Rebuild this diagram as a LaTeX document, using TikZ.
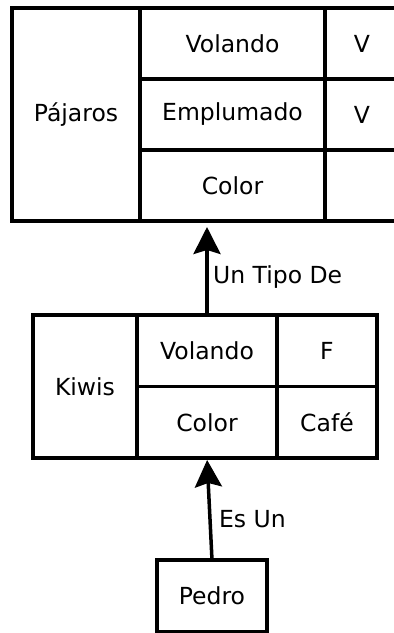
\documentclass[tikz,border=0pt]{standalone}
\usepackage{fontspec}
\setmainfont{DejaVu Sans}
\usetikzlibrary{arrows.meta, positioning}

\begin{document}
\begin{tikzpicture}[
        x=1pt, y=1pt,
        node distance=0pt,
        cell/.style={draw, line width=3.5pt, outer sep=0pt, inner sep=0pt,
                     minimum height=71pt, font=\fontsize{23.5}{28}\selectfont},
        arr/.style={-{Stealth[length=27pt, width=27pt, inset=4pt]}, line width=3.5pt},
        lbl/.style={font=\fontsize{23.5}{28}\selectfont}
      ]
        \useasboundingbox (0,0) rectangle (394,633);
        % frame for the birds
        \node[cell, minimum width=128pt, minimum height=213pt] (pajaros) at (76,518.5) {Pájaros};
        \node[cell, minimum width=185pt, anchor=north west] (pvol) at (pajaros.north east) {Volando};
        \node[cell, minimum width=185pt, below=of pvol] (pemp) {Emplumado};
        \node[cell, minimum width=185pt, below=of pemp] (pcolor) {Color};
        \node[cell, minimum width=74pt, right=of pvol] (pvolv) {V};
        \node[cell, minimum width=74pt, right=of pemp] (pempv) {V};
        \node[cell, minimum width=74pt, right=of pcolor] (pcolorv) {};
        % frame for the kiwis
        \node[cell, minimum width=104pt, minimum height=143pt] (kiwis) at (85,246.5) {Kiwis};
        \node[cell, minimum width=140pt, minimum height=71.5pt, anchor=north west] (kvol) at (kiwis.north east) {Volando};
        \node[cell, minimum width=140pt, minimum height=71.5pt, below=of kvol] (kcolor) {Color};
        \node[cell, minimum width=100pt, minimum height=71.5pt, right=of kvol] (kvolv) {F};
        \node[cell, minimum width=100pt, minimum height=71.5pt, right=of kcolor] (kcolorv) {Café};
        % instance
        \node[cell, minimum width=110pt, minimum height=72pt] (pedro) at (212,37) {Pedro};
        \draw[arr, shorten >=6pt] (kvol.north) -- (kvol.north |- pcolor.south)
          node[lbl, right, pos=0.40, xshift=1pt] {Un Tipo De};
        \draw[arr, shorten >=2pt] (pedro.north) -- (kcolor.south)
          node[lbl, right, pos=0.40, xshift=4pt] {Es Un};
      \end{tikzpicture}
\end{document}
